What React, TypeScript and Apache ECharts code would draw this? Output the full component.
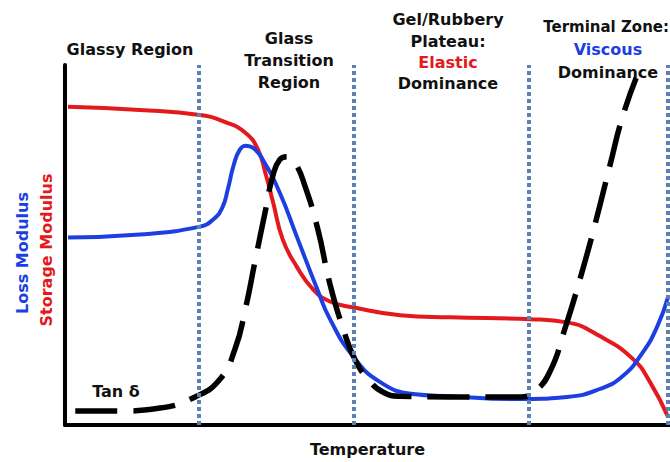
import React, { useEffect, useRef } from "react";
import * as echarts from "echarts";

// Schematic DMA temperature sweep (arbitrary units 0..100)
const storageModulus: [number, number][] = [
  [0.5, 88.4], [12.4, 87.5], [22.3, 86.1], [26.4, 84.2], [29.8, 81.2], [31.9, 76.5],
  [33.2, 69.5], [34.4, 61.8], [36.0, 51.5], [38.3, 44.0], [41.0, 37.7], [43.8, 34.3],
  [47.6, 32.7], [55.4, 30.5], [63.6, 29.9], [76.9, 29.4], [83.0, 28.5], [88.4, 24.7],
  [93.9, 18.3], [96.7, 11.9], [99.7, 2.2],
];
const lossModulus: [number, number][] = [
  [0.5, 52.1], [12.4, 52.9], [22.3, 55.1], [24.5, 57.1], [26.0, 60.4], [26.9, 65.4],
  [27.9, 72.3], [28.9, 76.5], [29.9, 77.6], [31.1, 77.0], [32.7, 73.7], [35.5, 64.5],
  [38.3, 52.4], [41.7, 37.7], [43.8, 29.4], [47.6, 19.1], [52.1, 11.9], [57.5, 8.6],
  [63.6, 8.0], [74.7, 7.2], [83.0, 7.8], [88.4, 10.0], [92.2, 13.6], [95.5, 20.2],
  [97.9, 27.4], [99.7, 35.7],
];
const tanDelta: [number, number][] = [
  [1.7, 3.9], [9.1, 3.9], [15.7, 4.7], [21.5, 7.8], [25.6, 12.7], [28.1, 21.1],
  [29.8, 32.1], [31.4, 45.4], [33.1, 59.3], [34.4, 69.5], [35.5, 73.7], [36.7, 74.5],
  [38.0, 72.9], [39.7, 66.2], [41.8, 54.3], [43.8, 39.1], [46.0, 26.6], [47.9, 18.3],
  [50.1, 12.7], [52.6, 9.1], [55.4, 8.0], [63.6, 7.8], [75.2, 7.8], [77.7, 9.4],
  [80.2, 15.0], [82.6, 26.6], [85.1, 40.4], [87.6, 55.7], [90.1, 72.3], [92.1, 85.3],
  [94.4, 96.4],
];
const regionBoundaries: number[] = [22.1, 47.8, 76.7, 99.7];

const FONT = "'DejaVu Sans', sans-serif";
const RED = "#e3191d";
const BLUE = "#1c3fe2";

function label(text: string, x: number, y: number, color = "#111", extra: any = {}, align = "center", size = 16) {
  return {
    type: "text",
    x,
    y,
    silent: true,
    ...extra,
    style: {
      text,
      fill: color,
      font: `bold ${size}px ${FONT}`,
      textAlign: align,
      textVerticalAlign: "middle",
    },
  };
}

export default function App() {
  const ref = useRef<HTMLDivElement>(null);
  useEffect(() => {
    if (!ref.current) return;
    const chart = echarts.init(ref.current, null, { renderer: "svg" });
    chart.setOption({
      animation: false,
      backgroundColor: "#fff",
      grid: { left: 65, right: 0, top: 65, bottom: 37, containLabel: false, outerBoundsMode: "none" },
      xAxis: {
        type: "value",
        min: 0,
        max: 100,
        name: "Temperature",
        nameLocation: "middle",
        nameGap: 16,
        nameTextStyle: { fontFamily: FONT, fontWeight: "bold", fontSize: 16, color: "#111" },
        axisLine: { lineStyle: { color: "#000", width: 4 } },
        axisTick: { show: false },
        axisLabel: { show: false },
        splitLine: { show: false },
      },
      yAxis: {
        type: "value",
        min: 0,
        max: 100,
        axisLine: { show: true, lineStyle: { color: "#000", width: 4 } },
        axisTick: { show: false },
        axisLabel: { show: false },
        splitLine: { show: false },
      },
      series: [
        {
          name: "Boundaries",
          type: "line",
          data: [],
          markLine: {
            silent: true,
            symbol: "none",
            label: { show: false },
            lineStyle: { color: "#5a80b4", width: 4, type: [4, 3] },
            data: regionBoundaries.map((v) => ({ xAxis: v })),
          },
        },
        {
          name: "Storage Modulus",
          type: "line",
          data: storageModulus,
          smooth: 0.5,
          showSymbol: false,
          lineStyle: { color: RED, width: 4 },
        },
        {
          name: "Loss Modulus",
          type: "line",
          data: lossModulus,
          smooth: 0.5,
          showSymbol: false,
          lineStyle: { color: BLUE, width: 4 },
        },
        {
          name: "Tan δ",
          type: "line",
          data: tanDelta,
          smooth: 0.5,
          showSymbol: false,
          lineStyle: { color: "#000", width: 5.5, type: [42, 16], cap: "butt" },
        },
      ],
      graphic: [
        label("Glassy Region", 130, 49),
        label("Glass", 289, 38),
        label("Transition", 289, 60),
        label("Region", 289, 82),
        label("Gel/Rubbery", 448, 19),
        label("Plateau:", 448, 41),
        label("Elastic", 448, 62, RED),
        label("Dominance", 448, 83),
        label("Terminal Zone:", 669, 27, "#111", {}, "right", 15),
        label("Viscous", 608, 49, BLUE),
        label("Dominance", 608, 72),
        label("Tan δ", 116, 391),
        label("Loss Modulus", 22, 253, BLUE, { rotation: Math.PI / 2 }),
        label("Storage Modulus", 46, 250, RED, { rotation: Math.PI / 2 }),
      ],
    });
    return () => chart.dispose();
  }, []);
  return <div ref={ref} style={{ position: "fixed", left: 0, top: 0, width: 670, height: 462 }} />;
}
